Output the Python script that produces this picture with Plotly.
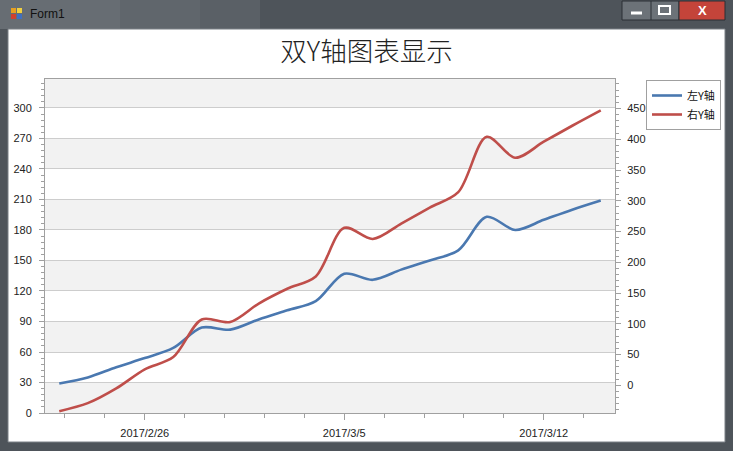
import plotly.graph_objects as go

# ---------------- data ----------------
dates = ["2017-02-23", "2017-02-24", "2017-02-25", "2017-02-26", "2017-02-27",
         "2017-02-28", "2017-03-01", "2017-03-02", "2017-03-03", "2017-03-04",
         "2017-03-05", "2017-03-06", "2017-03-07", "2017-03-08", "2017-03-09",
         "2017-03-10", "2017-03-11", "2017-03-12", "2017-03-13", "2017-03-14"]
left_values = [29, 35, 45, 54, 64, 84, 82, 92, 101, 110,
               137, 131, 141, 150, 160, 193, 180, 190, 200, 209]
right_values = [-42, -29, -5, 26, 46, 107, 103, 133, 157, 177,
                256, 238, 263, 289, 314, 404, 370, 396, 422, 447]
series_names = ["左Y轴", "右Y轴"]
title_text = "双Y轴图表显示"
window_title = "Form1"
left_ticks = [0, 30, 60, 90, 120, 150, 180, 210, 240, 270, 300]
right_ticks = [0, 50, 100, 150, 200, 250, 300, 350, 400, 450]

# ---------------- layout geometry (pixels) ----------------
FIG_W, FIG_H = 733, 451
L, R, T, B = 45, 615, 79, 413
PW, PH = R - L, B - T
LEFT_RANGE = [0, 328.5]
RIGHT_RANGE = [-45, 498]


def px(x):
    return (x - L) / PW


def py(y):
    return (B - y) / PH


BLUE = "#4a78b0"
RED = "#bf4e4a"
AXIS_C = "#a0a0a0"
GRID_C = "#cdcdcd"
STRIPE_C = "#f2f2f2"
TICK_FONT = dict(family="Liberation Sans, Arial, sans-serif", size=11, color="#222222")

fig = go.Figure()
fig.add_trace(go.Scatter(x=dates, y=left_values, name=series_names[0], mode="lines",
                         line=dict(color=BLUE, width=2.6, shape="spline", smoothing=0.9),
                         yaxis="y"))
fig.add_trace(go.Scatter(x=dates, y=right_values, name=series_names[1], mode="lines",
                         line=dict(color=RED, width=2.6, shape="spline", smoothing=0.9),
                         yaxis="y2"))

shapes = []
# soft lighter areas of the title bar (glass effect)
for (x0, x1, c) in [(0, 120, "#676d73"), (120, 200, "#60666c"), (200, 260, "#5a6066")]:
    shapes.append(dict(type="rect", xref="paper", yref="paper", x0=px(x0), x1=px(x1),
                       y0=py(29), y1=py(0), fillcolor=c, line=dict(width=0), layer="below"))
# window client area
shapes.append(dict(type="rect", xref="paper", yref="paper", x0=px(8), x1=px(725),
                   y0=py(442), y1=py(29), fillcolor="white",
                   line=dict(color="#7a8086", width=1), layer="below"))
# interlaced stripes from tick list
for i in range(0, len(left_ticks), 2):
    y0 = left_ticks[i]
    y1 = min(y0 + (left_ticks[1] - left_ticks[0]), LEFT_RANGE[1])
    shapes.append(dict(type="rect", xref="paper", yref="y", x0=0, x1=1, y0=y0, y1=y1,
                       fillcolor=STRIPE_C, line=dict(width=0), layer="below"))
# title bar buttons
shapes.append(dict(type="rect", xref="paper", yref="paper", x0=px(622), x1=px(679),
                   y0=py(20), y1=py(1), fillcolor="#6c7278",
                   line=dict(color="#2a2f35", width=1), layer="above"))
shapes.append(dict(type="line", xref="paper", yref="paper", x0=px(651), x1=px(651),
                   y0=py(20), y1=py(1), line=dict(color="#2a2f35", width=1)))
shapes.append(dict(type="rect", xref="paper", yref="paper", x0=px(679), x1=px(725),
                   y0=py(20), y1=py(1), fillcolor="#c4443a",
                   line=dict(color="#2a2f35", width=1), layer="above"))
shapes.append(dict(type="line", xref="paper", yref="paper", x0=px(631), x1=px(642),
                   y0=py(13), y1=py(13), line=dict(color="white", width=3)))
shapes.append(dict(type="rect", xref="paper", yref="paper", x0=px(659), x1=px(670),
                   y0=py(14), y1=py(6), line=dict(color="white", width=2)))
# window icon
for (x0, y0, c) in [(11, 8, "#e8a020"), (17, 8, "#f0d040"), (11, 14, "#d04030"), (17, 14, "#4070c0")]:
    shapes.append(dict(type="rect", xref="paper", yref="paper", x0=px(x0), x1=px(x0 + 5),
                       y0=py(y0 + 5), y1=py(y0), fillcolor=c, line=dict(width=0)))

annotations = [
    dict(text=window_title, xref="paper", yref="paper", x=px(28), y=py(14),
         xanchor="left", yanchor="middle", showarrow=False,
         font=dict(family="Liberation Sans, Arial, sans-serif", size=12, color="#111111")),
    dict(text="<b>X</b>", xref="paper", yref="paper", x=px(702), y=py(10.5),
         xanchor="center", yanchor="middle", showarrow=False,
         font=dict(family="Liberation Sans, Arial, sans-serif", size=13, color="white")),
]

fig.update_layout(
    template="none",
    width=FIG_W, height=FIG_H,
    paper_bgcolor="#4e545a",
    plot_bgcolor="white",
    margin=dict(l=L, r=FIG_W - R, t=T, b=FIG_H - B, pad=0, autoexpand=False),
    title=dict(text=title_text, x=0.5, xref="container", xanchor="center",
               y=1 - 52 / FIG_H, yref="container", yanchor="middle",
               font=dict(family="Noto Sans CJK SC, sans-serif", size=26.5, color="#222222",
                         weight=300)),
    showlegend=True,
    legend=dict(x=px(646), y=py(80), xanchor="left", yanchor="top",
                bgcolor="white", bordercolor="#a0a0a0", borderwidth=1,
                font=dict(family="Noto Sans CJK SC, sans-serif", size=11, color="#111111"),
                itemwidth=30, tracegroupgap=0),
    xaxis=dict(type="date", range=["2017-02-22 12:00", "2017-03-14 12:00"],
               tick0="2017-02-26", dtick=7 * 86400000, tickformat="%Y/%-m/%-d",
               ticks="outside", ticklen=6, tickcolor=AXIS_C, tickwidth=1,
               showline=True, linecolor=AXIS_C, linewidth=1, mirror=True,
               showgrid=False, zeroline=False, tickfont=TICK_FONT,
               ticklabelstandoff=4, automargin=False,
               minor=dict(tick0="2017-02-26", dtick=1.4 * 86400000, ticks="outside",
                          ticklen=4, tickcolor=AXIS_C, showgrid=False)),
    yaxis=dict(range=LEFT_RANGE, tickvals=left_ticks,
               ticks="outside", ticklen=5, tickcolor=AXIS_C,
               showline=True, linecolor=AXIS_C, linewidth=1,
               showgrid=True, gridcolor=GRID_C, gridwidth=1, zeroline=False,
               tickfont=TICK_FONT, ticklabelstandoff=5, automargin=False,
               minor=dict(dtick=6, tick0=0, ticks="outside", ticklen=3,
                          tickcolor=AXIS_C, showgrid=False)),
    yaxis2=dict(range=RIGHT_RANGE, tickvals=right_ticks, overlaying="y", side="right",
                ticks="outside", ticklen=5, tickcolor=AXIS_C,
                showline=True, linecolor=AXIS_C, linewidth=1,
                showgrid=False, zeroline=False,
                tickfont=TICK_FONT, ticklabelstandoff=4, automargin=False,
                minor=dict(dtick=10, tick0=0, ticks="outside", ticklen=3,
                           tickcolor=AXIS_C, showgrid=False)),
    shapes=shapes,
    annotations=annotations,
)

fig.write_html("out.html", config={"displayModeBar": False},
               post_script="document.body.style.margin='0';document.body.style.overflow='hidden';")
